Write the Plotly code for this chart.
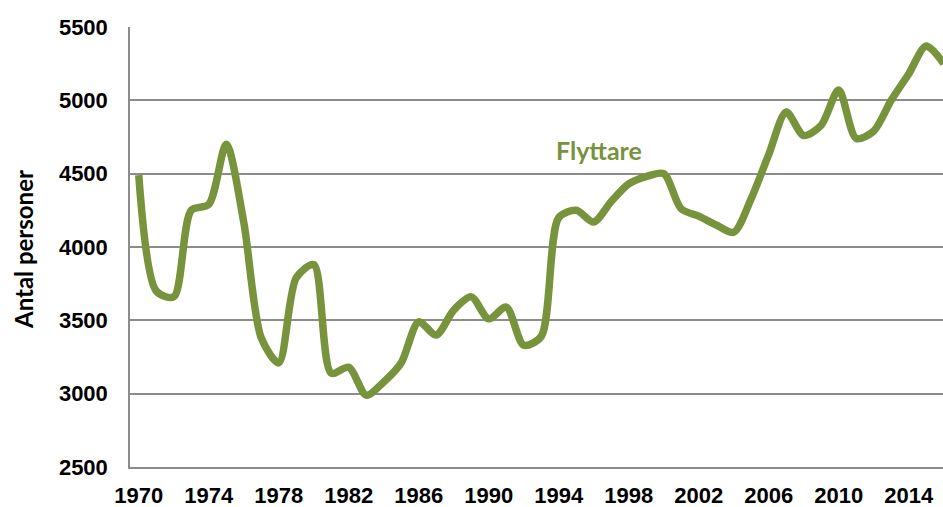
import plotly.graph_objects as go

years = list(range(1970, 2017))
flyttare = [4490, 3700, 3660, 4250, 4290, 4700, 4170, 3380, 3210, 3790,
            3880, 3140, 3180, 2990, 3080, 3210, 3490, 3400, 3570, 3660,
            3510, 3590, 3330, 3390, 4200, 4250, 4170, 4310, 4430, 4480,
            4500, 4260, 4210, 4150, 4100, 4330, 4630, 4920, 4760, 4830,
            5070, 4740, 4790, 5000, 5180, 5370, 5250]
x_ticks = list(range(1970, 2015, 4))
y_ticks = [2500, 3000, 3500, 4000, 4500, 5000, 5500]

green = "#77933C"
grid = "#8c8c8c"

fig = go.Figure()
fig.add_trace(go.Scatter(x=years, y=flyttare, mode="lines",
                         line=dict(color=green, width=7.5, shape="spline", smoothing=0.8),
                         showlegend=False, hoverinfo="skip"))

fig.add_annotation(x=1996.3, y=4660, xref="x", yref="y", text="<b>Flyttare</b>",
                   showarrow=False, font=dict(family="Lato", size=25, color=green))
fig.add_annotation(x=0, y=0.5, xref="paper", yref="paper", xshift=-107, yshift=-3,
                   xanchor="center", yanchor="middle",
                   text="<b>Antal personer</b>", textangle=-90, showarrow=False,
                   font=dict(family="Lato", size=24, color="black"))

fig.update_layout(
    width=943, height=507,
    margin=dict(l=130, r=0, t=27, b=40),
    plot_bgcolor="white", paper_bgcolor="white",
    font=dict(family="Liberation Sans", color="black"),
    xaxis=dict(range=[1969.5, 2015.96], tickvals=x_ticks, ticktext=[str(v) for v in x_ticks],
               showgrid=False, zeroline=False, showline=True, linecolor=grid, linewidth=1.5,
               ticks="", tickfont=dict(size=22, family="Liberation Sans", weight="bold"),
               ticklabelstandoff=8, automargin=False),
    yaxis=dict(range=[2500, 5500], tickvals=y_ticks, ticktext=[str(v) for v in y_ticks],
               showgrid=True, gridcolor=grid, gridwidth=1.5, zeroline=False,
               showline=True, linecolor=grid, linewidth=1.5, ticks="",
               tickfont=dict(size=22, family="Liberation Sans", weight="bold"),
               ticklabelstandoff=16, automargin=False),
)

fig.write_html("out.html", config={"displayModeBar": False},
               post_script="document.body.style.margin='0';")
